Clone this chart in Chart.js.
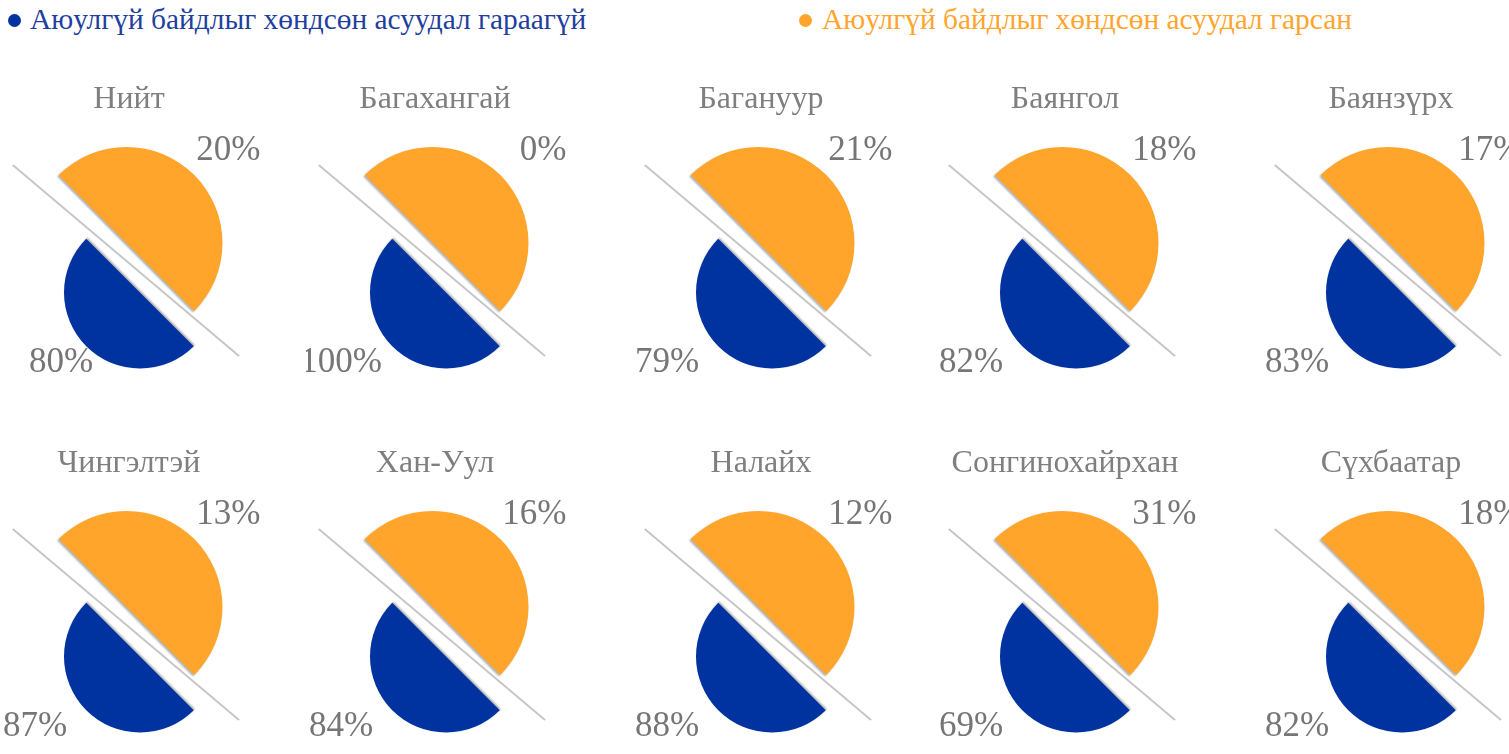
<!DOCTYPE html>
<html>
<head>
<meta charset="utf-8">
<script src="https://cdn.jsdelivr.net/npm/chart.js@4.4.1/dist/chart.umd.min.js"></script>
<style>
  html, body { margin:0; padding:0; background:#fff; }
  body { width:1509px; height:754px; overflow:hidden; position:relative; font-family:"Liberation Serif", "Times New Roman", serif; }
  .lg-dot { position:absolute; width:13px; height:13px; border-radius:50%; }
  .lg-txt { position:absolute; font-size:29.4px; line-height:29px; white-space:nowrap; }
  .panel { position:absolute; }
  .panel canvas { position:absolute; left:0; top:0; }
</style>
</head>
<body>
<div id="legend"></div>
<div id="grid"></div>
<script>
// ---------------- data ----------------
const districts = ['Нийт', 'Багахангай', 'Багануур', 'Баянгол', 'Баянзүрх',
                   'Чингэлтэй', 'Хан-Уул', 'Налайх', 'Сонгинохайрхан', 'Сүхбаатар'];
const seriesNames = ['Аюулгүй байдлыг хөндсөн асуудал гараагүй',
                     'Аюулгүй байдлыг хөндсөн асуудал гарсан'];
const notOccurred = [80, 100, 79, 82, 83, 87, 84, 88, 69, 82];   // blue half label (%)
const occurred    = [20, 0, 21, 18, 17, 13, 16, 12, 31, 18];     // orange half label (%)
const halfShare   = [50, 50];   // each panel is drawn as two equal halves

// ---------------- style / layout ----------------
const COLORS = { orange:'#FFA52C', blue:'#0033A0', pct:'#767676', title:'#7F7F7F',
                 guide:'#C6C6C6', lgBlue:'#1F3F9F', lgOrange:'#FFA52C' };
const COL_X = [0, 305.6, 632.3, 935.6, 1262.3];
const ROW_Y = [0, 364];
const PANEL = { top:60, w:300, h:325 };
const ORANGE_GEO = { cx:126.5, cy:243, r:96 };
const BLUE_GEO   = { cx:140, cy:292.5, r:76 };
const BLUE_LABEL_SHIFT = [26, 0, 0, 0, 0, 0, 0, 0, 0, 0];
const FONT = '"Liberation Serif", "Times New Roman", serif';

// ---------------- legend ----------------
const legend = document.getElementById('legend');
[[7.5, 30, COLORS.blue, COLORS.lgBlue, seriesNames[0]],
 [798.5, 822, COLORS.orange, COLORS.lgOrange, seriesNames[1]]].forEach(([dx, tx, dc, tc, name]) => {
  const d = document.createElement('div');
  d.className = 'lg-dot'; d.style.left = dx + 'px'; d.style.top = '13.5px'; d.style.background = dc;
  legend.appendChild(d);
  const t = document.createElement('div');
  t.className = 'lg-txt'; t.style.left = tx + 'px'; t.style.top = '5px'; t.style.color = tc;
  t.textContent = name;
  legend.appendChild(t);
});

// ---------------- plugins ----------------
const shadowPlugin = {
  id: 'edgeShadow',
  beforeDatasetsDraw(chart, args, o) {
    const ctx = chart.ctx; ctx.save();
    ctx.shadowColor = 'rgba(0,0,0,0.3)'; ctx.shadowBlur = 2;
    ctx.shadowOffsetX = o.dx; ctx.shadowOffsetY = o.dy;
  },
  afterDatasetsDraw(chart) { chart.ctx.restore(); }
};

const K = Math.SQRT1_2;
const grid = document.getElementById('grid');

districts.forEach((name, i) => {
  const c = i % 5, r = Math.floor(i / 5);
  const panel = document.createElement('div');
  panel.className = 'panel';
  panel.style.left = COL_X[c] + 'px';
  panel.style.top = (ROW_Y[r] + PANEL.top) + 'px';
  panel.style.width = PANEL.w + 'px';
  panel.style.height = PANEL.h + 'px';
  grid.appendChild(panel);

  const cvO = document.createElement('canvas');
  const cvB = document.createElement('canvas');
  [cvO, cvB].forEach(cv => { cv.width = PANEL.w; cv.height = PANEL.h; panel.appendChild(cv); });

  // ----- orange half (upper-right) -----
  const o = ORANGE_GEO, oy = o.cy - PANEL.top;
  new Chart(cvO, {
    type: 'pie',
    data: { labels: [seriesNames[1]],
            datasets: [{ data: [halfShare[1]], backgroundColor: COLORS.orange,
                         borderWidth: 0, hoverBorderWidth: 0, hoverOffset: 0, clip: false }] },
    options: {
      responsive: false, animation: false, events: [],
      rotation: -45, circumference: 180,
      layout: { padding: { left: o.cx - K * o.r, top: oy - o.r,
                           right: PANEL.w - (o.cx + o.r), bottom: PANEL.h - (oy + K * o.r) } },
      plugins: { legend: { display: false }, tooltip: { enabled: false },
                 edgeShadow: { dx: -1.5, dy: 1.5 } }
    },
    plugins: [{
      id: 'guideAndText',
      beforeDraw(chart) {
        const a = chart.getDatasetMeta(0).data[0];
        const R = a.outerRadius, ctx = chart.ctx;
        ctx.save();
        ctx.strokeStyle = COLORS.guide; ctx.lineWidth = 2;
        ctx.beginPath();
        ctx.moveTo(a.x - 1.185 * R, a.y - 0.8125 * R);
        ctx.lineTo(a.x + 1.172 * R, a.y + 1.177 * R);
        ctx.stroke();
        ctx.restore();
      },
      afterDraw(chart) {
        const a = chart.getDatasetMeta(0).data[0];
        const R = a.outerRadius, ctx = chart.ctx;
        ctx.save();
        ctx.textBaseline = 'alphabetic';
        ctx.font = '32px ' + FONT; ctx.fillStyle = COLORS.title; ctx.textAlign = 'center';
        ctx.fillText(name, a.x + 0.026 * R, a.y - 1.403 * R);
        ctx.font = '35px ' + FONT; ctx.fillStyle = COLORS.pct; ctx.textAlign = 'right';
        ctx.fillText(occurred[i] + '%', a.x + 1.395 * R, a.y - 0.865 * R);
        ctx.restore();
      }
    }, shadowPlugin]
  });

  // ----- blue half (lower-left) -----
  const b = BLUE_GEO, by = b.cy - PANEL.top;
  new Chart(cvB, {
    type: 'pie',
    data: { labels: [seriesNames[0]],
            datasets: [{ data: [halfShare[0]], backgroundColor: COLORS.blue,
                         borderWidth: 0, hoverBorderWidth: 0, hoverOffset: 0, clip: false }] },
    options: {
      responsive: false, animation: false, events: [],
      rotation: 135, circumference: 180,
      layout: { padding: { left: b.cx - b.r, top: by - K * b.r,
                           right: PANEL.w - (b.cx + K * b.r), bottom: PANEL.h - (by + b.r) } },
      plugins: { legend: { display: false }, tooltip: { enabled: false },
                 edgeShadow: { dx: 1.2, dy: -1.2 } }
    },
    plugins: [{
      id: 'blueText',
      afterDraw(chart) {
        const a = chart.getDatasetMeta(0).data[0];
        const R = a.outerRadius, ctx = chart.ctx;
        ctx.save();
        ctx.font = '35px ' + FONT; ctx.fillStyle = COLORS.pct;
        ctx.textAlign = 'center'; ctx.textBaseline = 'alphabetic';
        ctx.fillText(notOccurred[i] + '%', a.x - 1.382 * R + BLUE_LABEL_SHIFT[i], a.y + 1.046 * R);
        ctx.restore();
      }
    }, shadowPlugin]
  });
});
</script>
</body>
</html>
